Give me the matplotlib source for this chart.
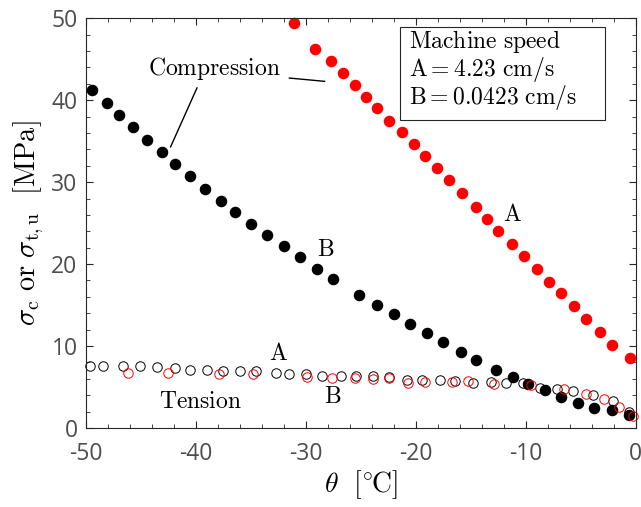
import matplotlib
matplotlib.use('Agg')
import matplotlib.pyplot as plt
from matplotlib.patches import Rectangle

plt.rcParams['mathtext.fontset'] = 'cm'
plt.rcParams['axes.unicode_minus'] = False
plt.rcParams['font.family'] = 'Open Sans'

# compression, speed A (red filled)
comp_a_x = [-31.1, -29.2, -27.7, -26.6, -25.5, -24.5, -23.5, -22.4, -21.3, -20.2,
            -19.2, -18.1, -17.0, -15.8, -14.5, -13.5, -12.5, -11.3, -10.2, -9.0,
            -7.9, -6.8, -5.6, -4.5, -3.3, -2.2, -0.5]
comp_a_y = [49.4, 46.2, 44.8, 43.3, 41.8, 40.4, 39.0, 37.4, 36.1, 34.6,
            33.2, 31.7, 30.2, 28.7, 27.0, 25.5, 24.0, 22.5, 21.0, 19.4,
            17.8, 16.5, 14.9, 13.3, 11.7, 10.1, 8.5]

# compression, speed B (black filled)
comp_b_x = [-49.4, -48.1, -47.0, -45.7, -44.4, -43.1, -41.9, -40.5, -39.2, -37.7,
            -36.4, -35.0, -33.5, -32.0, -30.5, -29.0, -27.5, -25.2, -23.5, -22.0,
            -20.5, -19.0, -17.5, -15.9, -14.5, -12.7, -11.2, -9.8, -8.3, -6.8,
            -5.3, -3.8, -2.2, -0.6]
comp_b_y = [41.3, 39.6, 38.2, 36.7, 35.1, 33.7, 32.2, 30.7, 29.1, 27.7,
            26.3, 24.9, 23.5, 22.2, 20.9, 19.4, 18.2, 16.2, 15.0, 13.9,
            12.7, 11.6, 10.5, 9.3, 8.3, 7.1, 6.2, 5.3, 4.6, 3.8,
            3.0, 2.4, 2.2, 1.6]

# tension, black open
ten_k_x = [-49.6, -48.4, -46.6, -45.1, -43.5, -41.9, -40.5, -39.0, -37.5, -36.0,
           -34.5, -32.7, -31.5, -30.0, -28.5, -26.8, -25.4, -23.9, -22.4, -20.8,
           -19.4, -17.8, -16.4, -14.8, -13.2, -11.8, -10.3, -8.7, -7.2, -5.7,
           -3.9, -2.1, -0.6]
ten_k_y = [7.6, 7.6, 7.6, 7.5, 7.4, 7.3, 7.1, 7.1, 7.0, 6.9,
           7.0, 6.7, 6.6, 6.6, 6.3, 6.3, 6.3, 6.3, 6.2, 5.9,
           5.9, 5.8, 5.7, 5.5, 5.6, 5.5, 5.5, 4.9, 4.8, 4.5,
           4.0, 3.3, 2.0]

# tension, red open
ten_r_x = [-46.2, -42.5, -37.9, -34.8, -29.9, -27.6, -25.5, -23.9, -22.4, -20.7,
           -19.2, -16.7, -15.3, -12.9, -9.5, -6.5, -4.5, -2.9, -1.5, -0.3]
ten_r_y = [6.7, 6.7, 6.6, 6.6, 6.2, 6.1, 6.1, 6.0, 6.1, 5.5,
           5.6, 5.6, 5.7, 5.4, 5.2, 4.7, 4.1, 3.5, 2.6, 1.5]

speed_lines = [r'$\mathrm{Machine\ speed}$',
               r'$\mathrm{A} = 4.23\ \mathrm{cm/s}$',
               r'$\mathrm{B} = 0.0423\ \mathrm{cm/s}$']

fig = plt.figure(figsize=(6.41, 5.07), dpi=100)
ax = fig.add_axes([0.134, 0.156, 0.858, 0.808])

ax.plot(comp_a_x, comp_a_y, 'o', color='red', markersize=7.3, clip_on=False)
ax.plot(comp_b_x, comp_b_y, 'o', color='black', markersize=7.3, clip_on=False)
ax.plot(ten_k_x, ten_k_y, 'o', mfc='none', mec='black', markersize=6.8, mew=0.7, clip_on=False)
ax.plot(ten_r_x, ten_r_y, 'o', mfc='none', mec='red', markersize=6.8, mew=0.7, clip_on=False)

ax.set_xlim(-50, 0)
ax.set_ylim(0, 50)
ax.set_xticks([-50, -40, -30, -20, -10, 0])
ax.set_yticks([0, 10, 20, 30, 40, 50])
ax.set_xticks(range(-50, 1, 2), minor=True)
ax.set_yticks(range(0, 51, 2), minor=True)
ax.tick_params(which='both', direction='in', top=True, right=True,
               labelsize=16.5, labelcolor='#4d4d4d', color='#262626')
ax.tick_params(which='major', length=5, width=0.8)
ax.tick_params(which='minor', length=3, width=0.6)
ax.tick_params(axis='x', pad=10)
ax.tick_params(axis='y', pad=6)
for s in ax.spines.values():
    s.set_linewidth(0.8)
    s.set_color('#262626')

ax.set_xlabel(r'$\theta\ \ [{}^{\circ}\hspace{-0.08}\mathrm{C}]$', fontsize=20, labelpad=2)
ax.set_ylabel(r'$\sigma_\mathrm{c}\ \mathrm{or}\ \sigma_\mathrm{t,u}\ \ \mathrm{[MPa]}$', fontsize=20.5, labelpad=4)

ts = 17
ax.text(-38.3, 43.9, r'$\mathrm{Compression}$', fontsize=ts, ha='center', va='center')
ax.plot([-39.9, -42.3], [41.5, 34.3], color='black', lw=1)
ax.plot([-31.5, -28.3], [42.7, 42.3], color='black', lw=1)
ax.text(-11.2, 26.0, r'$\mathrm{A}$', fontsize=ts, ha='center', va='center')
ax.text(-28.2, 21.7, r'$\mathrm{B}$', fontsize=ts, ha='center', va='center')
ax.text(-32.5, 9.0, r'$\mathrm{A}$', fontsize=ts, ha='center', va='center')
ax.text(-27.6, 3.8, r'$\mathrm{B}$', fontsize=ts, ha='center', va='center')
ax.text(-39.6, 3.2, r'$\mathrm{Tension}$', fontsize=ts, ha='center', va='center')

# boxed speed note
ax.add_patch(Rectangle((0.571, 0.751), 0.373, 0.227, transform=ax.transAxes,
                       fc='white', ec='#262626', lw=0.8, zorder=3))
for i, line in enumerate(speed_lines):
    ax.text(0.587, 0.944 - i * 0.069, line, transform=ax.transAxes,
            fontsize=ts, ha='left', va='center', zorder=4)

fig.savefig('out.png', dpi=100)
